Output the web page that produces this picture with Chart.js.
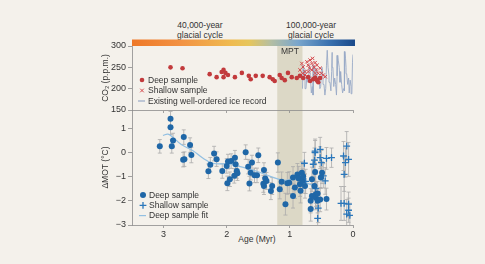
<!DOCTYPE html>
<html>
<head>
<meta charset="utf-8">
<script src="https://cdn.jsdelivr.net/npm/chart.js@4.4.0/dist/chart.umd.min.js"></script>
<style>
html, body { margin: 0; padding: 0; background: #f4f1eb; }
body { width: 485px; height: 264px; position: relative; overflow: hidden; font-family: "Liberation Sans", Arial, sans-serif; }
canvas { position: absolute; left: 0; top: 0; }
.txt { position: absolute; font-size: 8.5px; color: #333; text-align: center; line-height: 10px; white-space: nowrap; }
</style>
</head>
<body>
<div class="txt" style="left:150px;top:20px;width:100px">40,000-year<br>glacial cycle</div>
<div class="txt" style="left:261px;top:20px;width:100px">100,000-year<br>glacial cycle</div>
<div class="txt" style="left:207px;top:234px;width:100px">Age (Myr)</div>
<canvas id="bottom" width="485" height="264" style="width:485px;height:264px"></canvas>
<canvas id="top" width="485" height="122" style="width:485px;height:122px"></canvas>
<script>
// axes
const xTicks = [3, 2, 1, 0];
const co2Ticks = [150, 200, 250, 300];
const motTicks = [-3, -2, -1, 0, 1];
const mptRange = [1.2, 0.8];

// CO2 panel (age in Myr, CO2 in p.p.m.)
const deepCO2Age = [2.89, 2.70, 2.27, 2.16, 2.08, 2.05, 2.05, 2.02, 1.98, 1.87, 1.76, 1.65, 1.62, 1.54, 1.43, 1.32, 1.27, 1.24, 1.16, 1.13, 1.08, 1.03, 0.97, 0.89, 0.84, 0.79, 0.71, 0.68, 0.63, 0.60, 0.57, 0.55, 0.52];
const deepCO2 = [250, 248, 234, 227, 239, 244, 227, 237, 232, 227, 237, 230, 222, 230, 230, 227, 222, 218, 232, 225, 220, 237, 227, 225, 230, 225, 227, 218, 222, 226, 220, 215, 225];
const shallowCO2Age = [0.84, 0.81, 0.80, 0.79, 0.76, 0.76, 0.73, 0.73, 0.71, 0.71, 0.69, 0.68, 0.68, 0.65, 0.65, 0.64, 0.63, 0.62, 0.60, 0.60, 0.58, 0.57, 0.55, 0.52, 0.50, 0.47, 0.44];
const shallowCO2 = [244, 259, 236, 251, 240, 232, 263, 228, 255, 240, 248, 267, 220, 259, 244, 271, 224, 251, 261, 236, 244, 255, 236, 248, 236, 232, 228];
const iceAgeKyr = [0, 8, 18, 30, 45, 60, 70, 85, 100, 110, 118, 128, 136, 150, 165, 180, 195, 205, 218, 232, 242, 252, 262, 275, 290, 305, 318, 330, 338, 350, 365, 380, 395, 408, 420, 432, 445, 460, 475, 490, 500, 512, 525, 540, 555, 570, 582, 595, 608, 620, 632, 645, 660, 675, 690, 700, 715, 730, 745, 760, 775, 790, 800];
const iceCO2 = [280, 262, 188, 205, 220, 190, 225, 210, 235, 250, 270, 287, 195, 200, 190, 210, 240, 215, 250, 265, 278, 230, 185, 210, 225, 205, 250, 285, 240, 195, 215, 230, 250, 290, 255, 200, 185, 210, 230, 250, 240, 205, 200, 230, 215, 240, 248, 215, 250, 255, 185, 205, 190, 230, 255, 235, 215, 230, 200, 245, 220, 255, 200];

// MOT panel (age in Myr, delta MOT in degC)
const deepMOTAge = [3.06, 2.89, 2.89, 2.87, 2.85, 2.69, 2.68, 2.67, 2.58, 2.56, 2.29, 2.26, 2.20, 2.16, 2.07, 2.00, 1.99, 1.98, 1.95, 1.93, 1.88, 1.87, 1.86, 1.84, 1.83, 1.70, 1.66, 1.64, 1.62, 1.60, 1.56, 1.52, 1.50, 1.42, 1.41, 1.41, 1.39, 1.37, 1.30, 1.28, 1.19, 1.16, 1.13, 1.07, 1.04, 1.01, 0.95, 0.95, 0.92, 0.88, 0.86, 0.84, 0.83, 0.81, 0.80, 0.79, 0.76, 0.67, 0.67, 0.65, 0.65, 0.61, 0.60, 0.59, 0.59, 0.56, 0.56, 0.52, 0.51, 0.49, 0.42];
const deepMOT = [0.25, 1.39, 1.04, 0.25, 0.49, -0.30, 0.63, -0.28, 0.30, -0.11, -0.78, -0.51, -0.05, -0.28, -0.77, -0.56, -1.28, -0.38, -1.11, -0.36, -0.97, -0.22, -0.49, -0.77, -0.86, 0.01, -0.59, -1.29, -0.84, -0.42, -0.95, -0.95, -0.12, -1.30, -0.73, -1.39, -1.08, -1.18, -1.60, -1.39, -0.42, -1.52, -1.21, -2.14, -1.28, -1.25, -1.04, -1.80, -1.45, -0.91, -1.08, -1.32, -1.59, -0.84, -1.18, -0.99, -1.39, -2.00, -2.34, -1.80, -1.11, -1.39, -0.81, -1.87, -1.73, -2.00, -1.70, -1.95, -1.04, -0.84, -1.93];
const deepMOTErr = [0.28, 0.3, 0.3, 0.28, 0.3, 0.3, 0.3, 0.3, 0.3, 0.32, 0.3, 0.3, 0.3, 0.3, 0.3, 0.3, 0.3, 0.3, 0.3, 0.3, 0.3, 0.3, 0.3, 0.3, 0.3, 0.3, 0.3, 0.3, 0.3, 0.3, 0.3, 0.3, 0.3, 0.35, 0.3, 0.35, 0.35, 0.35, 0.35, 0.35, 0.4, 0.4, 0.4, 0.45, 0.45, 0.45, 0.45, 0.5, 0.45, 0.45, 0.5, 0.5, 0.5, 0.45, 0.5, 0.5, 0.5, 0.5, 0.5, 0.5, 0.5, 0.5, 0.5, 0.5, 0.5, 0.5, 0.5, 0.5, 0.45, 0.45, 0.45];
const shallowMOTAge = [0.77, 0.75, 0.63, 0.61, 0.60, 0.60, 0.59, 0.56, 0.55, 0.52, 0.52, 0.50, 0.47, 0.44, 0.42, 0.34, 0.19, 0.15, 0.14, 0.14, 0.12, 0.10, 0.10, 0.07, 0.07, 0.07, 0.05];
const shallowMOT = [-0.45, -1.20, -0.49, -0.32, -0.01, 0.05, -1.50, -2.73, -2.30, -0.22, 0.12, -0.42, -0.97, -1.18, -0.25, -0.22, -2.11, -0.15, -0.91, -2.11, -0.42, 0.26, -2.55, -0.29, -2.14, -2.39, -2.60];
const shallowMOTErr = [0.45, 0.5, 0.5, 0.5, 0.5, 0.5, 0.6, 0.5, 0.6, 0.45, 0.5, 0.5, 0.5, 0.55, 0.45, 0.4, 0.7, 0.6, 0.7, 0.7, 0.6, 0.6, 0.6, 0.7, 0.5, 0.5, 0.5];
const fitAge = [3.01, 2.93, 2.85, 2.72, 2.54, 2.38, 2.22, 2.00, 1.80, 1.55, 1.30, 1.10, 0.90, 0.70, 0.55];
const fitMOT = [0.70, 0.75, 0.62, 0.32, 0.08, -0.23, -0.45, -0.48, -0.58, -0.76, -1.00, -1.15, -1.12, -1.30, -1.45];

const FONT = '"Liberation Sans", Arial, sans-serif';
const TEXT = '#333';
const AXIS = '#8c8c8c';

function pts(xs, ys) {
    return xs.map((x, i) => ({ x: x, y: ys[i] }));
}

function minus(v) {
    return v < 0 ? '\u2212' + Math.abs(v) : String(v);
}

// shaded MPT band
const mptBand = {
    id: 'mptBand',
    beforeDatasetsDraw(chart, args, opts) {
        const { ctx, chartArea } = chart;
        const xs = chart.scales.x;
        const x1 = xs.getPixelForValue(mptRange[0]);
        const x2 = xs.getPixelForValue(mptRange[1]);
        ctx.save();
        ctx.fillStyle = '#dcd8c6';
        ctx.fillRect(x1, chartArea.top, x2 - x1, chartArea.bottom - chartArea.top);
        if (opts.label) {
            ctx.fillStyle = TEXT;
            ctx.font = '8.5px ' + FONT;
            ctx.textAlign = 'center';
            ctx.textBaseline = 'middle';
            ctx.fillText('MPT', (x1 + x2) / 2, chartArea.top + 6);
        }
        ctx.restore();
    }
};

// colour bar above the CO2 panel
const cycleBar = {
    id: 'cycleBar',
    afterDraw(chart) {
        const { ctx, chartArea } = chart;
        const g = ctx.createLinearGradient(chartArea.left, 0, chartArea.right, 0);
        g.addColorStop(0, '#ee7827');
        g.addColorStop(0.22, '#f29243');
        g.addColorStop(0.45, '#efbb50');
        g.addColorStop(0.53, '#e6c65c');
        g.addColorStop(0.63, '#b3bea3');
        g.addColorStop(0.75, '#7aa6cc');
        g.addColorStop(0.89, '#3b72b0');
        g.addColorStop(1, '#1c4c8c');
        ctx.save();
        ctx.fillStyle = g;
        ctx.fillRect(chartArea.left, chartArea.top - 6.5, chartArea.right - chartArea.left + 2, 6.5);
        ctx.restore();
    }
};

// vertical error bars
const errorBars = {
    id: 'errorBars',
    beforeDatasetsDraw(chart) {
        const { ctx, chartArea } = chart;
        const ys = chart.scales.y;
        ctx.save();
        ctx.beginPath();
        ctx.rect(chartArea.left, chartArea.top, chartArea.right - chartArea.left, chartArea.bottom - chartArea.top);
        ctx.clip();
        ctx.strokeStyle = '#ababab';
        ctx.lineWidth = 0.8;
        chart.data.datasets.forEach((ds, i) => {
            if (!ds.errors) return;
            chart.getDatasetMeta(i).data.forEach((p, j) => {
                const v = ds.data[j].y, e = ds.errors[j];
                const y1 = ys.getPixelForValue(v - e);
                const y2 = ys.getPixelForValue(v + e);
                ctx.beginPath();
                ctx.moveTo(p.x, y1); ctx.lineTo(p.x, y2);
                ctx.moveTo(p.x - 2, y1); ctx.lineTo(p.x + 2, y1);
                ctx.moveTo(p.x - 2, y2); ctx.lineTo(p.x + 2, y2);
                ctx.stroke();
            });
        });
        ctx.restore();
    }
};

// legend drawn inside the plot
const panelLegend = {
    id: 'panelLegend',
    afterDraw(chart, args, opts) {
        const ctx = chart.ctx;
        ctx.save();
        ctx.font = '8.5px ' + FONT;
        ctx.textBaseline = 'middle';
        chart.data.datasets.forEach((ds, i) => {
            const x = opts.x, y = opts.y + i * opts.gap;
            const c = ds.borderColor || ds.backgroundColor;
            ctx.strokeStyle = c;
            ctx.fillStyle = ds.backgroundColor || c;
            if (ds.type === 'line') {
                ctx.lineWidth = 1.2;
                ctx.beginPath(); ctx.moveTo(x - 4, y); ctx.lineTo(x + 3, y); ctx.stroke();
            } else if (ds.pointStyle === 'circle') {
                ctx.beginPath(); ctx.arc(x, y, ds.pointRadius, 0, Math.PI * 2); ctx.fill();
            } else {
                const r = ds.pointRadius;
                ctx.lineWidth = ds.borderWidth;
                ctx.beginPath();
                if (ds.pointStyle === 'crossRot') {
                    const d = r * 0.75;
                    ctx.moveTo(x - d, y - d); ctx.lineTo(x + d, y + d);
                    ctx.moveTo(x - d, y + d); ctx.lineTo(x + d, y - d);
                } else {
                    ctx.moveTo(x - r, y); ctx.lineTo(x + r, y);
                    ctx.moveTo(x, y - r); ctx.lineTo(x, y + r);
                }
                ctx.stroke();
            }
            ctx.fillStyle = TEXT;
            ctx.fillText(ds.label, x + 6, y + 0.5);
        });
        ctx.restore();
    }
};

function xScale(showLabels, height) {
    return {
        type: 'linear',
        min: 0,
        max: 3.5,
        reverse: true,
        afterBuildTicks: s => { s.ticks = xTicks.map(v => ({ value: v })); },
        afterFit: s => { s.height = height; },
        ticks: { display: showLabels, color: TEXT, font: { size: 9, family: FONT }, padding: 1, maxRotation: 0 },
        grid: { drawOnChartArea: false, tickLength: 3, color: AXIS, lineWidth: 0.8 },
        border: { color: AXIS, width: 0.8 }
    };
}

function yScale(min, max, ticks, title) {
    return {
        min: min,
        max: max,
        afterBuildTicks: s => { s.ticks = ticks.map(v => ({ value: v })); },
        afterFit: s => { s.width = 35; },
        ticks: { color: TEXT, font: { size: 9, family: FONT }, padding: 2, callback: v => minus(v) },
        grid: { drawOnChartArea: false, tickLength: 4, color: AXIS, lineWidth: 0.8 },
        border: { color: AXIS, width: 0.8 },
        title: { display: true, text: title, color: TEXT, font: { size: 8.5, family: FONT }, padding: { top: 4, bottom: 0 } }
    };
}

new Chart(document.getElementById('top'), {
    type: 'scatter',
    data: {
        datasets: [
            {
                label: 'Deep sample',
                data: pts(deepCO2Age, deepCO2),
                pointStyle: 'circle',
                pointRadius: 2.3,
                backgroundColor: '#c23a3c',
                borderWidth: 0
            },
            {
                label: 'Shallow sample',
                data: pts(shallowCO2Age, shallowCO2),
                pointStyle: 'crossRot',
                pointRadius: 2.4,
                borderColor: '#d4474b',
                borderWidth: 1
            },
            {
                label: 'Existing well-ordered ice record',
                type: 'line',
                data: pts(iceAgeKyr.map(a => a / 1000), iceCO2),
                borderColor: '#98a9c6',
                borderWidth: 0.9,
                pointRadius: 0,
                tension: 0
            }
        ]
    },
    options: {
        responsive: false,
        animation: false,
        layout: { padding: { top: 46, left: 97, right: 132, bottom: 0 } },
        plugins: {
            legend: { display: false },
            tooltip: { enabled: false },
            mptBand: { label: true },
            panelLegend: { x: 142, y: 80, gap: 10.5 }
        },
        scales: {
            x: xScale(false, 12),
            y: yScale(150, 300, co2Ticks, 'CO\u2082 (p.p.m.)')
        }
    },
    plugins: [mptBand, cycleBar, panelLegend]
});

new Chart(document.getElementById('bottom'), {
    type: 'scatter',
    data: {
        datasets: [
            {
                label: 'Deep sample',
                data: pts(deepMOTAge, deepMOT),
                errors: deepMOTErr,
                pointStyle: 'circle',
                pointRadius: 3,
                backgroundColor: '#1f67a7',
                borderWidth: 0
            },
            {
                label: 'Shallow sample',
                data: pts(shallowMOTAge, shallowMOT),
                errors: shallowMOTErr,
                pointStyle: 'cross',
                pointRadius: 3.4,
                borderColor: '#2a77bb',
                borderWidth: 1.3
            },
            {
                label: 'Deep sample fit',
                type: 'line',
                data: pts(fitAge, fitMOT),
                borderColor: '#93c0e2',
                borderWidth: 1.2,
                pointRadius: 0,
                tension: 0.4
            }
        ]
    },
    options: {
        responsive: false,
        animation: false,
        layout: { padding: { top: 110, left: 97, right: 132, bottom: 19 } },
        plugins: {
            legend: { display: false },
            tooltip: { enabled: false },
            mptBand: { label: false },
            panelLegend: { x: 143, y: 195, gap: 10.3 }
        },
        scales: {
            x: xScale(true, 20),
            y: yScale(-3, 1.75, motTicks, '\u0394MOT (\u00b0C)')
        }
    },
    plugins: [mptBand, errorBars, panelLegend]
});
</script>
</body>
</html>
